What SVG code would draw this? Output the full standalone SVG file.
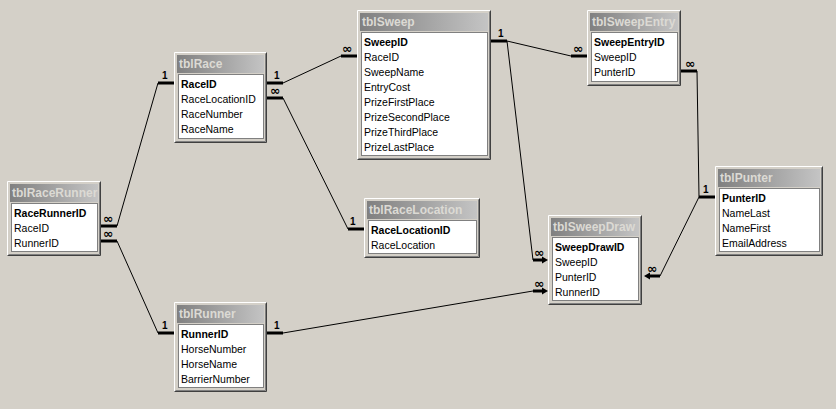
<svg xmlns="http://www.w3.org/2000/svg" width="836" height="409" viewBox="0 0 836 409">
<style>
.frame{fill:#d4d0c8}
.hi{stroke:#ffffff;stroke-width:1;fill:none}
.sh{stroke:#808080;stroke-width:1;fill:none}
.dk{stroke:#404040;stroke-width:1;fill:none}
.list{fill:#ffffff;stroke:#808080;stroke-width:1}
.title{font-family:"Liberation Sans",Arial,sans-serif;font-size:12px;font-weight:bold;fill:#dcdad4}
.fld{font-family:"Liberation Sans",Arial,sans-serif;font-size:10.5px;fill:#000}
.key{font-weight:bold}
.ln{stroke:#000;stroke-width:1;fill:none}
.bar{stroke:#000;stroke-width:3;fill:none}
.one{font-family:"Liberation Sans",Arial,sans-serif;font-size:10px;font-weight:bold;fill:#000}
.inf{font-family:"DejaVu Sans",sans-serif;font-size:12.5px;font-weight:bold;fill:#000}
</style>
<defs>
<linearGradient id="tg" x1="0" y1="0" x2="1" y2="0">
<stop offset="0" stop-color="#808080"/>
<stop offset="1" stop-color="#c4c4c4"/>
</linearGradient>
</defs>
<rect x="0" y="0" width="836" height="409" fill="#d4d0c8"/>

<g id="connectors">
<line class="ln" x1="117" y1="226" x2="158" y2="83"/>
<line class="ln" x1="117" y1="241" x2="158" y2="333"/>
<line class="ln" x1="283" y1="83" x2="341" y2="56"/>
<line class="ln" x1="283" y1="98" x2="348" y2="229"/>
<line class="ln" x1="507" y1="41" x2="571" y2="56"/>
<line class="ln" x1="507" y1="41" x2="533" y2="260"/>
<line class="ln" x1="283" y1="333" x2="533" y2="291"/>
<polyline class="ln" points="697,71 699,197 660,276"/>

<line class="bar" x1="101" y1="226" x2="117" y2="226"/>
<line class="bar" x1="101" y1="241" x2="117" y2="241"/>
<line class="bar" x1="158" y1="83" x2="174" y2="83"/>
<line class="bar" x1="158" y1="333" x2="174" y2="333"/>
<line class="bar" x1="267" y1="83" x2="283" y2="83"/>
<line class="bar" x1="267" y1="98" x2="283" y2="98"/>
<line class="bar" x1="341" y1="56" x2="357" y2="56"/>
<line class="bar" x1="348" y1="229" x2="364" y2="229"/>
<line class="bar" x1="491" y1="41" x2="507" y2="41"/>
<line class="bar" x1="571" y1="56" x2="587" y2="56"/>
<line class="bar" x1="267" y1="333" x2="283" y2="333"/>
<line class="bar" x1="681" y1="71" x2="697" y2="71"/>
<line class="bar" x1="699" y1="197" x2="715" y2="197"/>
<line class="bar" x1="533" y1="260" x2="543" y2="260"/>
<polygon points="548,260 542,256.5 542,263.5" fill="#000"/>
<line class="bar" x1="533" y1="291" x2="543" y2="291"/>
<polygon points="548,291 542,287.5 542,294.5" fill="#000"/>
<line class="bar" x1="650" y1="276" x2="660" y2="276"/>
<polygon points="644,276 650,272.5 650,279.5" fill="#000"/>

<text class="inf" x="103" y="223">∞</text>
<text class="inf" x="103" y="238">∞</text>
<text class="one" x="162" y="79">1</text>
<text class="one" x="162" y="329">1</text>
<text class="one" x="274" y="79">1</text>
<text class="inf" x="270" y="95">∞</text>
<text class="inf" x="342" y="53">∞</text>
<text class="one" x="350" y="225">1</text>
<text class="one" x="498" y="37">1</text>
<text class="inf" x="573" y="53">∞</text>
<text class="one" x="274" y="329">1</text>
<text class="inf" x="685" y="68">∞</text>
<text class="one" x="703" y="193">1</text>
<text class="inf" x="534" y="257">∞</text>
<text class="inf" x="534" y="288">∞</text>
<text class="inf" x="647" y="273">∞</text>
</g>

<g id="tblRaceRunner">
<rect class="frame" x="7" y="181" width="94" height="75"/>
<path class="hi" d="M7.5,255.5V181.5H100.5"/>
<path class="dk" d="M7.5,255.5H100.5V181.5"/>
<path class="sh" d="M8.5,254.5H99.5V182.5"/>
<rect x="10" y="184" width="88" height="18" fill="url(#tg)"/>
<text class="title" x="12" y="197">tblRaceRunner</text>
<rect class="list" x="11.5" y="203.5" width="86" height="48"/>
<text class="fld key" x="14" y="217">RaceRunnerID</text>
<text class="fld" x="14" y="232">RaceID</text>
<text class="fld" x="14" y="247">RunnerID</text>
</g>

<g id="tblRace">
<rect class="frame" x="174" y="52" width="93" height="91"/>
<path class="hi" d="M174.5,142.5V52.5H266.5"/>
<path class="dk" d="M174.5,142.5H266.5V52.5"/>
<path class="sh" d="M175.5,141.5H265.5V53.5"/>
<rect x="177" y="55" width="87" height="18" fill="url(#tg)"/>
<text class="title" x="179" y="68">tblRace</text>
<rect class="list" x="178.5" y="74.5" width="85" height="64"/>
<text class="fld key" x="181" y="88">RaceID</text>
<text class="fld" x="181" y="103">RaceLocationID</text>
<text class="fld" x="181" y="118">RaceNumber</text>
<text class="fld" x="181" y="133">RaceName</text>
</g>

<g id="tblSweep">
<rect class="frame" x="357" y="10" width="134" height="150"/>
<path class="hi" d="M357.5,159.5V10.5H490.5"/>
<path class="dk" d="M357.5,159.5H490.5V10.5"/>
<path class="sh" d="M358.5,158.5H489.5V11.5"/>
<rect x="360" y="13" width="128" height="18" fill="url(#tg)"/>
<text class="title" x="362" y="26">tblSweep</text>
<rect class="list" x="361.5" y="32.5" width="126" height="123"/>
<text class="fld key" x="364" y="46">SweepID</text>
<text class="fld" x="364" y="61">RaceID</text>
<text class="fld" x="364" y="76">SweepName</text>
<text class="fld" x="364" y="91">EntryCost</text>
<text class="fld" x="364" y="106">PrizeFirstPlace</text>
<text class="fld" x="364" y="121">PrizeSecondPlace</text>
<text class="fld" x="364" y="136">PrizeThirdPlace</text>
<text class="fld" x="364" y="151">PrizeLastPlace</text>
</g>

<g id="tblSweepEntry">
<rect class="frame" x="587" y="10" width="94" height="76"/>
<path class="hi" d="M587.5,85.5V10.5H680.5"/>
<path class="dk" d="M587.5,85.5H680.5V10.5"/>
<path class="sh" d="M588.5,84.5H679.5V11.5"/>
<rect x="590" y="13" width="88" height="18" fill="url(#tg)"/>
<text class="title" x="592" y="26">tblSweepEntry</text>
<rect class="list" x="591.5" y="32.5" width="86" height="49"/>
<text class="fld key" x="594" y="46">SweepEntryID</text>
<text class="fld" x="594" y="61">SweepID</text>
<text class="fld" x="594" y="76">PunterID</text>
</g>

<g id="tblRaceLocation">
<rect class="frame" x="364" y="198" width="116" height="60"/>
<path class="hi" d="M364.5,257.5V198.5H479.5"/>
<path class="dk" d="M364.5,257.5H479.5V198.5"/>
<path class="sh" d="M365.5,256.5H478.5V199.5"/>
<rect x="367" y="201" width="110" height="18" fill="url(#tg)"/>
<text class="title" x="369" y="214">tblRaceLocation</text>
<rect class="list" x="368.5" y="220.5" width="108" height="33"/>
<text class="fld key" x="371" y="234">RaceLocationID</text>
<text class="fld" x="371" y="249">RaceLocation</text>
</g>

<g id="tblSweepDraw">
<rect class="frame" x="548" y="215" width="94" height="90"/>
<path class="hi" d="M548.5,304.5V215.5H641.5"/>
<path class="dk" d="M548.5,304.5H641.5V215.5"/>
<path class="sh" d="M549.5,303.5H640.5V216.5"/>
<rect x="551" y="218" width="88" height="18" fill="url(#tg)"/>
<text class="title" x="553" y="231">tblSweepDraw</text>
<rect class="list" x="552.5" y="237.5" width="86" height="63"/>
<text class="fld key" x="555" y="251">SweepDrawID</text>
<text class="fld" x="555" y="266">SweepID</text>
<text class="fld" x="555" y="281">PunterID</text>
<text class="fld" x="555" y="296">RunnerID</text>
</g>

<g id="tblPunter">
<rect class="frame" x="715" y="166" width="108" height="90"/>
<path class="hi" d="M715.5,255.5V166.5H822.5"/>
<path class="dk" d="M715.5,255.5H822.5V166.5"/>
<path class="sh" d="M716.5,254.5H821.5V167.5"/>
<rect x="718" y="169" width="102" height="18" fill="url(#tg)"/>
<text class="title" x="720" y="182">tblPunter</text>
<rect class="list" x="719.5" y="188.5" width="100" height="63"/>
<text class="fld key" x="722" y="202">PunterID</text>
<text class="fld" x="722" y="217">NameLast</text>
<text class="fld" x="722" y="232">NameFirst</text>
<text class="fld" x="722" y="247">EmailAddress</text>
</g>

<g id="tblRunner">
<rect class="frame" x="174" y="302" width="93" height="90"/>
<path class="hi" d="M174.5,391.5V302.5H266.5"/>
<path class="dk" d="M174.5,391.5H266.5V302.5"/>
<path class="sh" d="M175.5,390.5H265.5V303.5"/>
<rect x="177" y="305" width="87" height="18" fill="url(#tg)"/>
<text class="title" x="179" y="318">tblRunner</text>
<rect class="list" x="178.5" y="324.5" width="85" height="63"/>
<text class="fld key" x="181" y="338">RunnerID</text>
<text class="fld" x="181" y="353">HorseNumber</text>
<text class="fld" x="181" y="368">HorseName</text>
<text class="fld" x="181" y="383">BarrierNumber</text>
</g>
</svg>
